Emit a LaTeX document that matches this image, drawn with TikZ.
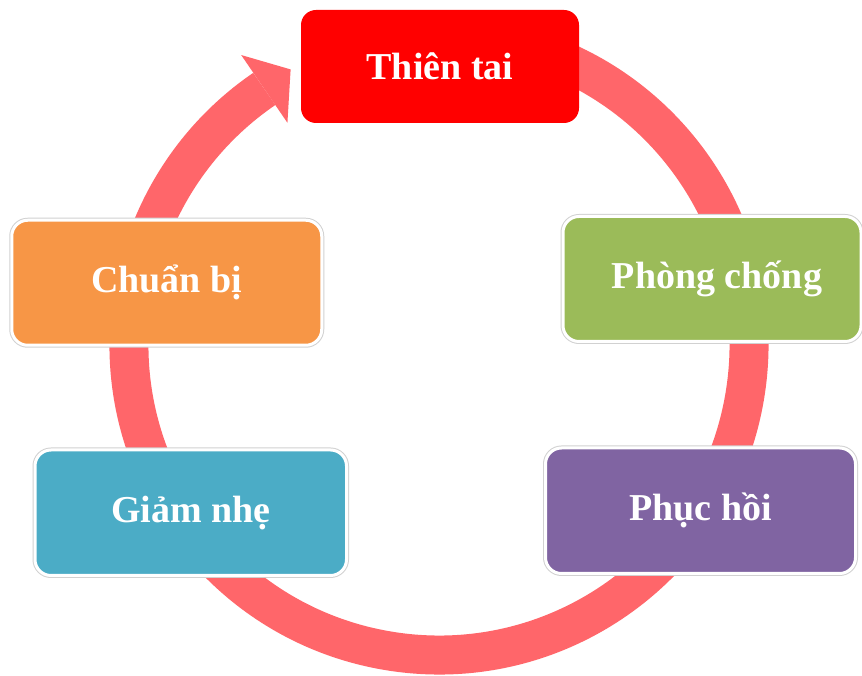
\documentclass[tikz,border=0pt]{standalone}
\usepackage{fontspec}
\setmainfont{Liberation Serif}
\usetikzlibrary{calc}
\definecolor{ringred}{RGB}{255,102,106}
\definecolor{boxred}{RGB}{255,0,0}
\definecolor{boxorange}{RGB}{247,150,70}
\definecolor{boxgreen}{RGB}{155,187,89}
\definecolor{boxblue}{RGB}{75,172,198}
\definecolor{boxpurple}{RGB}{128,100,162}
\tikzset{
  stagebox/.style={rounded corners=16pt, inner sep=0pt, text=white,
    font=\fontsize{38}{44}\selectfont\bfseries,
    preaction={draw=black!18, line width=5pt},
    draw=white, line width=3pt},
  topbox/.style={rounded corners=15pt, inner sep=0pt, text=white,
    font=\fontsize{38}{44}\selectfont\bfseries, fill=boxred},
  ringline/.style={draw=ringred, line width=39pt, line cap=butt},
}
\begin{document}
\begin{tikzpicture}[x=1pt,y=1pt]
\useasboundingbox (0,0) rectangle (862,676);
\fill[white] (0,0) rectangle (862,676);
\coordinate (C) at (439,331);
% ring
\draw[ringline] ($(C)+(80:310)$) arc[start angle=80, end angle=-235.7, radius=310];
\coordinate (b1) at ($(C)+(124.3:351)$);
\coordinate (b2) at ($(C)+(124.3:269)$);
\coordinate (tip) at ($(C)+(118.3:313)$);
\fill[ringred] (b1) -- (tip) -- (b2) -- cycle;
% boxes
\node[topbox, minimum width=278pt, minimum height=113pt] (thientai) at (440,609.5) {Thiên tai};
\node[stagebox, fill=boxorange, minimum width=310pt, minimum height=125pt] (chuanbi) at (166.75,393.25) {Chuẩn bị};
\node[stagebox, fill=boxgreen, minimum width=298pt, minimum height=125pt] (phongchong) at (712,397) {\hspace*{10pt}Phòng chống};
\node[stagebox, fill=boxblue, minimum width=311.5pt, minimum height=125.5pt] (giamnhe) at (190.75,163.25) {Giảm nhẹ};
\node[stagebox, fill=boxpurple, minimum width=310pt, minimum height=125.5pt] (phuchoi) at (700.5,165.25) {Phục hồi};
\end{tikzpicture}
\end{document}
